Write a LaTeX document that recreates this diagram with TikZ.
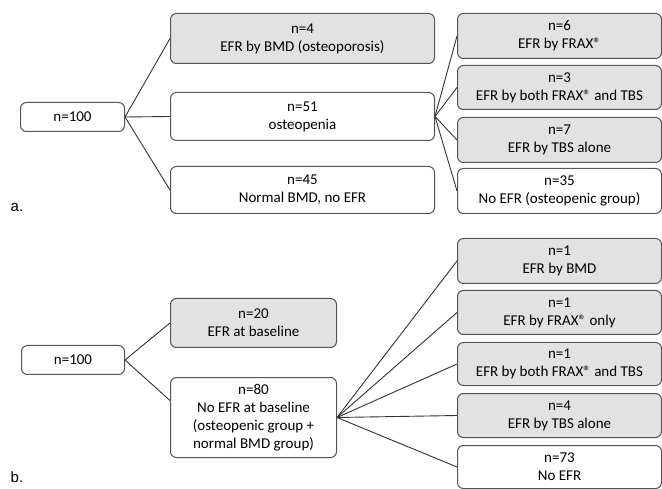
\documentclass[tikz,border=0pt]{standalone}
\usepackage{fontspec}
\setmainfont{Carlito}
\newfontfamily\labelfont{Liberation Sans}
\usetikzlibrary{calc}
\definecolor{boxline}{HTML}{555555}
\definecolor{boxfill}{HTML}{E2E2E2}
\definecolor{connline}{HTML}{333333}
\tikzset{
  boxw/.style={draw=boxline, line width=1pt, rounded corners=6pt, fill=white,
    align=center, inner sep=0pt, anchor=north west,
    font=\fontsize{15}{18}\selectfont},
  boxg/.style={boxw, fill=boxfill},
  conn/.style={draw=connline, line width=0.9pt},
  panellabel/.style={font=\labelfont\fontsize{15}{18}\selectfont, inner sep=0pt}
}
\begin{document}
\begin{tikzpicture}[x=1pt,y=-1pt]
\useasboundingbox (0,0) rectangle (662,489);
% ---------- panel a ----------
\node[boxw, minimum width=104pt, minimum height=29pt] (A0) at (20,102) {n=100};
\node[boxg, minimum width=264pt, minimum height=50pt] (A1) at (170,13) {n=4\\EFR by BMD (osteoporosis)};
\node[boxw, minimum width=264pt, minimum height=48pt] (A2) at (170,92) {n=51\\osteopenia};
\node[boxw, minimum width=264pt, minimum height=47pt] (A3) at (170,166) {n=45\\Normal BMD, no EFR};
\node[boxg, minimum width=204pt, minimum height=45pt] (R1) at (457,13) {n=6\\EFR by FRAX®};
\node[boxg, minimum width=204pt, minimum height=44pt] (R2) at (457,65) {n=3\\EFR by both FRAX® and TBS};
\node[boxg, minimum width=204pt, minimum height=45pt] (R3) at (457,117) {n=7\\EFR by TBS alone};
\node[boxw, minimum width=204pt, minimum height=45pt] (R4) at (457,168) {n=35\\No EFR (osteopenic group)};
\node[panellabel] (la) at (17,208) {a.};
\draw[conn] (A0.east) -- (A1.west);
\draw[conn] (A0.east) -- (A2.west);
\draw[conn] (A0.east) -- (A3.west);
\foreach \t in {R1,R2,R3,R4} \draw[conn] (A2.east) -- (\t.west);
% ---------- panel b ----------
\node[boxw, minimum width=103pt, minimum height=29pt] (B0) at (21,345) {n=100};
\node[boxg, minimum width=166pt, minimum height=49pt] (B1) at (170,298) {n=20\\EFR at baseline};
\node[boxw, minimum width=166pt, minimum height=80pt] (B2) at (170,377) {n=80\\No EFR at baseline\\(osteopenic group +\\normal BMD group)};
\node[boxg, minimum width=204pt, minimum height=45pt] (S1) at (457,238) {n=1\\EFR by BMD};
\node[boxg, minimum width=204pt, minimum height=44pt] (S2) at (457,290) {n=1\\EFR by FRAX® only};
\node[boxg, minimum width=204pt, minimum height=43pt] (S3) at (457,342) {n=1\\EFR by both FRAX® and TBS};
\node[boxg, minimum width=204pt, minimum height=44pt] (S4) at (457,393) {n=4\\EFR by TBS alone};
\node[boxw, minimum width=204pt, minimum height=43pt] (S5) at (457,445) {n=73\\No EFR};
\node[panellabel] (lb) at (17,477) {b.};
\coordinate (B2in) at ($(B2.north west)!0.29!(B2.south west)$);
\draw[conn] (B0.east) -- (B1.west);
\draw[conn] (B0.east) -- (B2in);
\foreach \t in {S1,S2,S3,S4,S5} \draw[conn] (B2.east) -- (\t.west);
\end{tikzpicture}
\end{document}
